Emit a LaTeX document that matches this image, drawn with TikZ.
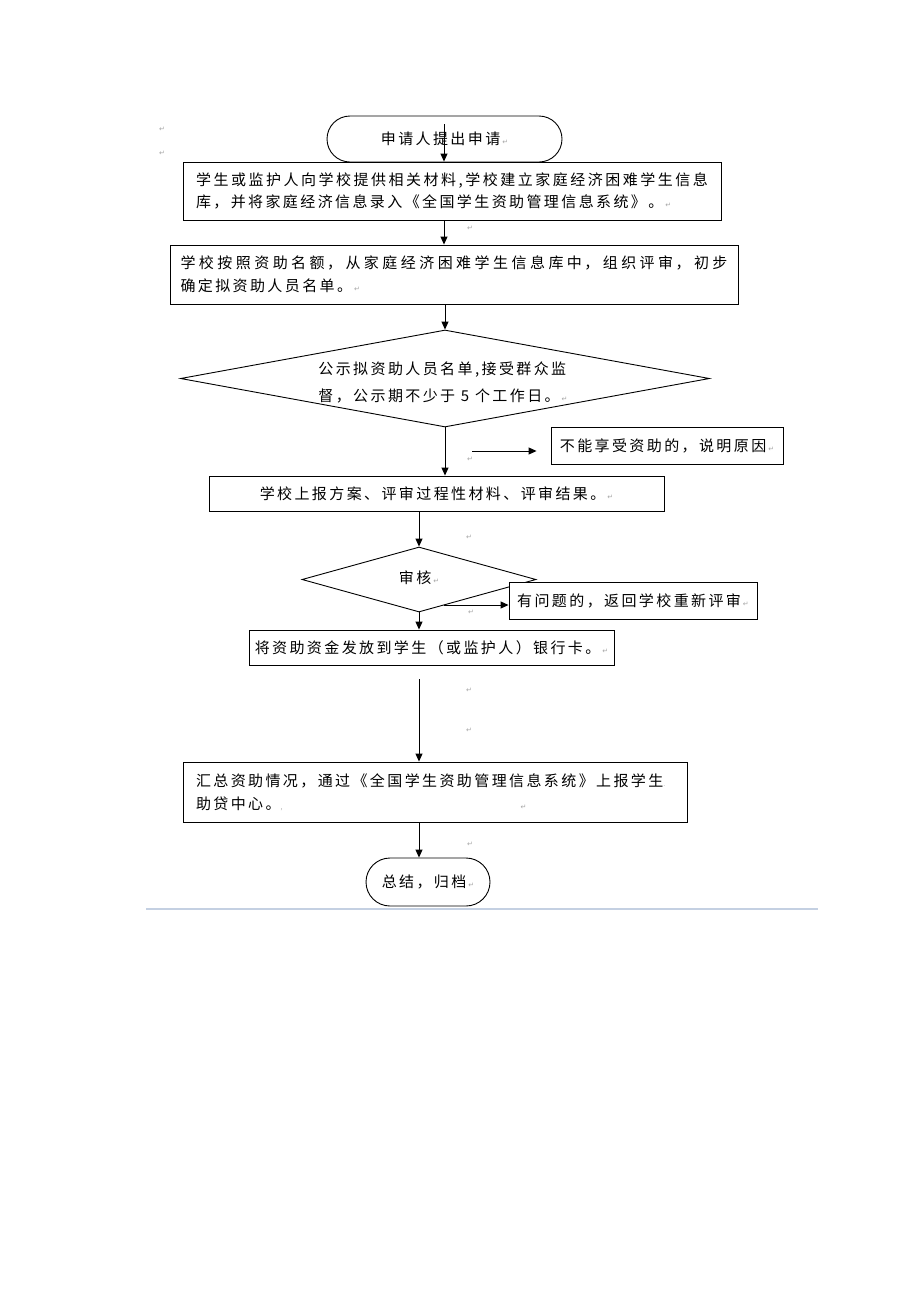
\documentclass[tikz,border=0pt]{standalone}
\usepackage{fontspec}
\setmainfont[LetterSpace=16]{Noto Sans CJK SC}
\newfontfamily\symf{DejaVu Sans}
\usetikzlibrary{arrows.meta,shapes.geometric}
\XeTeXlinebreaklocale "zh"
\XeTeXlinebreakskip=0pt plus 4pt
\newcommand\pmk{\hspace{2pt}{\symf\fontsize{7}{7}\selectfont\color{gray!70}↵}}
\newcommand\gdot[1]{{\color{gray!70}\fontsize{7}{7}\selectfont #1}}
\newcommand\jl[2]{\parbox{#1}{\parfillskip=0pt\relax #2}}
\definecolor{sepc}{RGB}{196,208,226}
\begin{document}
\begin{tikzpicture}[x=1pt,y=-1pt,line width=0.9pt,
  font=\fontsize{15}{24}\selectfont,
  box/.style={draw, fill=white, inner ysep=0pt, align=left},
  term/.style={draw, fill=white, rounded corners=23pt, inner sep=0pt},
  dia/.style={draw, diamond, inner sep=0pt},
  arr/.style={-{Triangle[length=8pt,width=7pt]}},
  pm/.style={font=\symf\fontsize{7}{7}\selectfont, text=gray!70, inner sep=0pt}]
\fill[white] (0,0) rectangle (920,1302);
\path[use as bounding box] (0,0) rectangle (920,1302);

% start
\node[term, minimum width=235pt, minimum height=46pt] (start) at (444.5,139) {申请人提出申请\pmk};
\coordinate (s0) at (444,124);

% box 1
\node[box, text width=512pt, inner xsep=13pt, minimum height=58pt, font=\fontsize{15}{24}\selectfont] (b1) at (452,191)
  {\jl{512pt}{学生或监护人向学校提供相关材料,学校建立家庭经济困难学生信息}\\\mbox{库，并将家庭经济信息录入《全国学生资助管理信息系统》。\pmk}};

% box 2
\node[box, text width=547pt, inner xsep=10.5pt, minimum height=59pt, font=\fontsize{15}{25}\selectfont] (b2) at (454,274.5)
  {\jl{547pt}{学校按照资助名额，从家庭经济困难学生信息库中，组织评审，初步}\\\mbox{确定拟资助人员名单。\pmk}};

% diamond 1
\node[dia, minimum width=529pt, minimum height=97pt] (d1) at (445,378.5) {};
\node[align=left, anchor=west, inner sep=0pt, font=\fontsize{15}{27}\selectfont] (d1t) at (318,382)
  {公示拟资助人员名单,接受群众监\\督，公示期不少于 5 个工作日。\pmk};

% box 3
\node[box, minimum width=455pt, minimum height=35pt, align=center] (b3) at (436.5,493.5) {学校上报方案、评审过程性材料、评审结果。\pmk};

% side box 1
\node[box, minimum width=232pt, minimum height=37pt, align=center] (nr) at (667,445.5) {不能享受资助的，说明原因\pmk};
\coordinate (c1) at (472,451);

% diamond 2
\node[dia, minimum width=234pt, minimum height=65pt] (d2) at (419,579.5) {};
\node (d2t) at (419,578) {审核\pmk};

% side box 2
\node[box, minimum width=248pt, minimum height=37pt, align=center] (rv) at (633,600.5) {有问题的，返回学校重新评审\pmk};
\coordinate (c2) at (444,605);

% box 4
\node[box, minimum width=365pt, minimum height=35pt, align=center] (b4) at (431.5,647.5) {将资助资金发放到学生（或监护人）银行卡。\pmk};
\coordinate (c3) at (419,679);

% box 5
\node[box, text width=478pt, inner xsep=13pt, minimum height=60pt, font=\fontsize{15}{23}\selectfont] (b5) at (435,792)
  {\mbox{汇总资助情况，通过《全国学生资助管理信息系统》上报学生\gdot{.}}\\\mbox{助贷中心。\gdot{,}\hspace{236pt}\pmk}};

% end
\node[term, rounded corners=24pt, minimum width=124pt, minimum height=48pt] (end) at (428,882) {总结，归档\pmk};

% connectors
\draw[arr] (s0) -- (s0 |- b1.north);
\draw[arr] (b1.south -| s0) -- (b2.north -| s0);
\draw[arr] (d1.north |- b2.south) -- (d1.north);
\draw[arr] (d1.south) -- (d1.south |- b3.north);
\draw[arr] (c1) -- ([xshift=-14pt]nr.west |- c1);
\draw[arr] (d2.north |- b3.south) -- (d2.north);
\draw[arr] (c2) -- (c2 -| rv.west);
\draw[arr] (d2.south) -- (d2.south |- b4.north);
\draw[arr] (c3) -- (c3 |- b5.north);
\draw[arr] (c3 |- b5.south) -- (c3 |- end.north);

% separator
\draw[line width=2pt, sepc] (146,908.5) -- (818,908.5);

% paragraph marks
\node[pm] (p1) at (162,129) {↵};
\node[pm] (p2) at (162,153) {↵};
\node[pm] (p3) at (470,228) {↵};
\node[pm] (p4) at (470,459) {↵};
\node[pm] (p5) at (469,537) {↵};
\node[pm] (p6) at (471,612) {↵};
\node[pm] (p7) at (469,690) {↵};
\node[pm] (p8) at (469,730) {↵};
\node[pm] (p9) at (470,844) {↵};
\end{tikzpicture}
\end{document}
